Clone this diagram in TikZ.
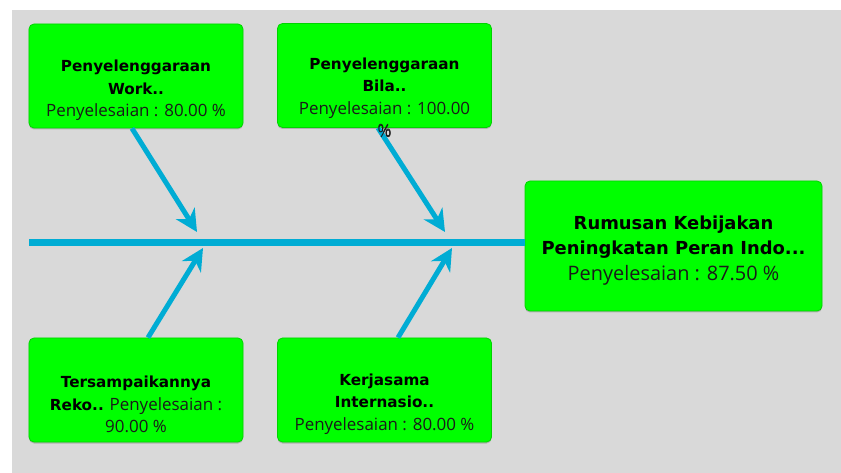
\documentclass[tikz,border=0pt]{standalone}
\usepackage{fontspec}
\setmainfont{Open Sans}
\newfontfamily\titlefont{DejaVu Sans}
\usetikzlibrary{arrows.meta,calc,shadows}
\definecolor{bg}{HTML}{D9D9D9}
\definecolor{boxgreen}{HTML}{00FF00}
\definecolor{boxedge}{HTML}{00D400}
\definecolor{bone}{HTML}{00ACD4}
\definecolor{ink}{HTML}{1A1A1A}
\tikzset{
  box/.style={draw=boxedge, line width=0.8bp, fill=boxgreen, rounded corners=5bp,
    drop shadow={shadow xshift=0bp, shadow yshift=-1.5bp, opacity=0.35, fill=black!60}},
  sidebox/.style={box, minimum width=214bp, minimum height=104bp},
  mainbox/.style={box, minimum width=297bp, minimum height=130bp},
  lbl/.style={align=center, inner sep=0pt, text=ink, font=\fontsize{17}{22.5}\selectfont},
  mainlbl/.style={align=center, inner sep=0pt, text=ink, font=\fontsize{20}{25.5}\selectfont},
  rib/.style={draw=bone, line width=5bp, -{Stealth[length=22bp,width=22bp,inset=7bp]}},
  spine/.style={draw=bone, line width=7bp}
}
\newcommand{\hd}[1]{{\titlefont\bfseries\fontsize{15.3}{22.5}\selectfont\color{black}#1}}
\newcommand{\mhd}[1]{{\titlefont\bfseries\fontsize{18}{25.5}\selectfont\color{black}#1}}
\begin{document}
\begin{tikzpicture}[x=1bp,y=-1bp]
  \useasboundingbox (0,0) rectangle (841,473);
  \fill[white] (0,0) rectangle (841,473);
  \fill[bg] (12,10) rectangle (841,473);

  % spine of the diagram and its head
  \node[mainbox] (head) at (673.5,246) {};
  \node[mainlbl] (headtxt) at (673.5,250.5)
    {\mhd{Rumusan Kebijakan}\\\mhd{Peningkatan Peran Indo...}\\Penyelesaian : 87.50 \%};
  \coordinate (tail) at (29,242.5);
  \draw[spine] (tail) -- (tail -| head.west);

  % cause boxes
  \node[sidebox] (work) at (136,76) {};
  \node[lbl] (worktxt) at (136,90.5)
    {\hd{Penyelenggaraan}\\\hd{Work..}\\Penyelesaian : 80.00 \%};

  \node[sidebox] (bila) at (384.5,75.5) {};
  \node[lbl] (bilatxt) at (384.5,97.5)
    {\hd{Penyelenggaraan}\\\hd{Bila..}\\Penyelesaian : 100.00\\\%};

  \node[sidebox] (reko) at (136,390) {};
  \node[lbl] (rekotxt) at (136,404.5)
    {\hd{Tersampaikannya}\\\hd{Reko..} Penyelesaian :\\90.00 \%};

  \node[sidebox] (kerja) at (384.5,390) {};
  \node[lbl] (kerjatxt) at (384.5,404)
    {\hd{Kerjasama}\\\hd{Internasio..}\\Penyelesaian : 80.00 \%};

  % ribs meeting the spine
  \coordinate (t1) at (197,232);
  \coordinate (t2) at (445,232);
  \coordinate (b1) at (203,248);
  \coordinate (b2) at (452,248);
  \draw[rib] ($(work.south)+(-4,0)$) -- (t1);
  \draw[rib] ($(bila.south)+(-6.5,0)$) -- (t2);
  \draw[rib] ($(reko.north)+(12,0)$) -- (b1);
  \draw[rib] ($(kerja.north)+(13.5,0)$) -- (b2);

  % the overflowing percent sign sits above the rib
  \node[lbl] (bilapct) at (384.5,131) {\%};
\end{tikzpicture}
\end{document}
